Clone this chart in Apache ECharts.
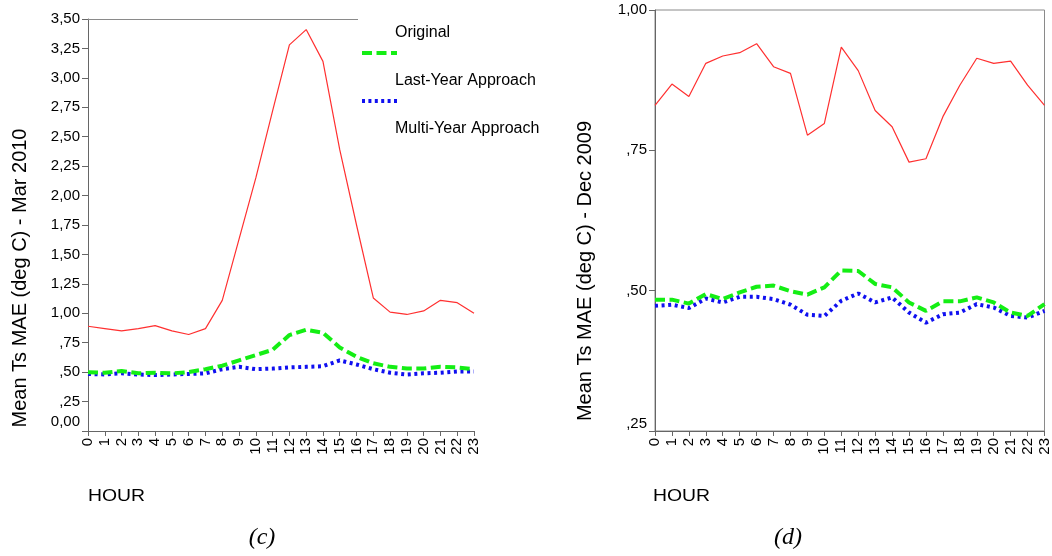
<!DOCTYPE html>
<html>
<head>
<meta charset="utf-8">
<script src="https://cdn.jsdelivr.net/npm/echarts@6/dist/echarts.min.js"></script>
<style>
  html, body { margin: 0; padding: 0; background: #fff; }
  #chart { width: 1052px; height: 556px; }
</style>
</head>
<body>
<div id="chart"></div>
<script>
// Hours of the day (category axis)
const hours = ['0','1','2','3','4','5','6','7','8','9','10','11','12','13','14','15','16','17','18','19','20','21','22','23'];

// Panel (c): mean Ts MAE, March 2010
const marOriginal   = [0.89, 0.87, 0.85, 0.87, 0.895, 0.85, 0.82, 0.87, 1.11, 1.63, 2.15, 2.72, 3.28, 3.41, 3.14, 2.39, 1.75, 1.13, 1.01, 0.99, 1.02, 1.11, 1.09, 1.00];
const marLastYear   = [0.50, 0.495, 0.51, 0.49, 0.495, 0.49, 0.50, 0.525, 0.555, 0.60, 0.645, 0.69, 0.815, 0.86, 0.835, 0.71, 0.63, 0.575, 0.545, 0.53, 0.53, 0.545, 0.54, 0.525];
const marMultiYear  = [0.485, 0.48, 0.49, 0.48, 0.475, 0.48, 0.485, 0.49, 0.525, 0.545, 0.525, 0.53, 0.54, 0.545, 0.55, 0.60, 0.565, 0.525, 0.495, 0.48, 0.49, 0.495, 0.505, 0.505];

// Panel (d): mean Ts MAE, December 2009
const decOriginal   = [0.830, 0.868, 0.846, 0.905, 0.918, 0.924, 0.940, 0.899, 0.887, 0.777, 0.798, 0.934, 0.892, 0.821, 0.792, 0.729, 0.735, 0.810, 0.866, 0.914, 0.905, 0.909, 0.866, 0.830];
const decLastYear   = [0.484, 0.484, 0.477, 0.494, 0.485, 0.497, 0.507, 0.509, 0.499, 0.493, 0.506, 0.536, 0.535, 0.512, 0.506, 0.479, 0.464, 0.481, 0.481, 0.488, 0.479, 0.461, 0.455, 0.476];
const decMultiYear  = [0.473, 0.475, 0.469, 0.486, 0.479, 0.489, 0.489, 0.485, 0.475, 0.457, 0.455, 0.482, 0.495, 0.479, 0.488, 0.461, 0.443, 0.458, 0.461, 0.476, 0.470, 0.455, 0.452, 0.464];

const seriesNames = ['Original', 'Last-Year Approach', 'Multi-Year Approach'];
const yTitles = ['Mean Ts MAE (deg C) - Mar 2010', 'Mean Ts MAE (deg C) - Dec 2009'];
const xTitle = 'HOUR';
const panelTags = ['(c)', '(d)'];

const FONT = '"Liberation Sans", Arial, sans-serif';
const AXIS_COLOR = '#666';
const BORDER_COLOR = '#8a8a8a';

// EViews-style tick labels: comma decimal, no leading zero below 1 (except zero itself);
// the bottom label of each axis sits a little above its tick
function tickLabelFor(axisMin, shiftStyle) {
  return function (v) {
    const r = Math.round(v * 100) / 100;
    let s = r === 0 ? '0,00' : r.toFixed(2).replace('.', ',');
    if (r !== 0 && r < 1) s = s.replace(/^0/, '');
    if (Math.abs(r - axisMin) < 1e-9) return '{' + shiftStyle + '|' + s + '}';
    return s;
  };
}

const lineStyles = [
  { color: '#ff3030', width: 1.2, type: 'solid' },
  { color: '#14ee14', width: 4, type: [10, 4.5] },
  { color: '#1010f0', width: 4, type: [3, 3.6] }
];

// Legend keys drawn as dash / dot patterns (35 x 4 box)
const legendIcons = [
  'path://M0,0h35v4h-35z',
  'path://M0,0h10v4h-10zM14.5,0h10v4h-10zM29,0h6v4h-6z',
  'path://M0,0h3v4h-3zM6.4,0h3v4h-3zM12.8,0h3v4h-3zM19.2,0h3v4h-3zM25.6,0h3v4h-3zM32,0h3v4h-3z'
];

function makeSeries(gridIdx, values) {
  return values.map((arr, i) => ({
    name: seriesNames[i],
    type: 'line',
    xAxisIndex: gridIdx === 0 ? 0 : 2,
    yAxisIndex: gridIdx,
    data: arr,
    symbol: 'none',
    showSymbol: false,
    lineStyle: lineStyles[i],
    itemStyle: { color: lineStyles[i].color },
    z: 3 - i,
    emphasis: { disabled: true }
  }));
}

function xCat(gridIndex) {
  return {
    type: 'category',
    gridIndex: gridIndex,
    data: hours,
    boundaryGap: false,
    axisLine: { lineStyle: { color: AXIS_COLOR, width: 1 } },
    axisTick: { show: true, length: 5, lineStyle: { color: AXIS_COLOR } },
    axisLabel: {
      rotate: 90, interval: 0, margin: 7,
      fontFamily: FONT, fontSize: 15, color: '#000'
    },
    splitLine: { show: false }
  };
}

function yVal(gridIndex, min, max, lift) {
  return {
    type: 'value',
    gridIndex: gridIndex,
    min: min, max: max, interval: 0.25,
    axisLine: { show: true, lineStyle: { color: AXIS_COLOR, width: 1 } },
    axisTick: { show: true, length: 6, lineStyle: { color: AXIS_COLOR } },
    axisLabel: {
      margin: 8, fontFamily: FONT, fontSize: 15, color: '#000',
      formatter: tickLabelFor(min, 'low'),
      rich: { low: { fontFamily: FONT, fontSize: 15, color: '#000', padding: [0, 0, lift, 0] } }
    },
    splitLine: { show: false }
  };
}

const chart = echarts.init(document.getElementById('chart'), null, { renderer: 'canvas' });

const option = {
  animation: false,
  backgroundColor: '#fff',
  grid: [
    { left: 88, top: 19, width: 386, height: 412, containLabel: false },
    { left: 655, top: 10, width: 393, height: 421, containLabel: false,
      show: true, borderColor: BORDER_COLOR, borderWidth: 1, backgroundColor: 'transparent' }
  ],
  xAxis: [
    xCat(0),
    // top frame line of panel (c)
    { type: 'category', gridIndex: 0, position: 'top', data: hours, boundaryGap: false,
      axisLine: { lineStyle: { color: BORDER_COLOR } }, axisTick: { show: false },
      axisLabel: { show: false }, splitLine: { show: false } },
    xCat(1)
  ],
  yAxis: [
    yVal(0, 0, 3.5, 18),
    yVal(1, 0.25, 1.0, 14)
  ],
  legend: {
    orient: 'vertical',
    left: 358,
    top: -12,
    padding: [0, 14, 8, 4],
    itemGap: -5,
    itemWidth: 35,
    itemHeight: 4,
    backgroundColor: '#fff',
    selectedMode: false,
    // key on the first line, entry name one row below it
    formatter: name => '{s| }\n{t|' + name + '}',
    textStyle: {
      fontFamily: FONT, fontSize: 16, color: '#000',
      rich: {
        s: { fontFamily: FONT, fontSize: 16, lineHeight: 56 },
        t: { fontFamily: FONT, fontSize: 16, lineHeight: 18, color: '#000', padding: [0, 0, 0, -7] }
      }
    },
    data: [
      { name: 'Original', icon: legendIcons[0], itemStyle: { color: 'rgba(255,255,255,0)', opacity: 0 } },
      { name: 'Last-Year Approach', icon: legendIcons[1] },
      { name: 'Multi-Year Approach', icon: legendIcons[2] }
    ]
  },
  graphic: [
    { type: 'text', x: 20, y: 278, rotation: Math.PI / 2,
      style: { text: yTitles[0], font: '20px ' + FONT, fill: '#000',
               align: 'center', verticalAlign: 'middle', textAlign: 'center', textVerticalAlign: 'middle' } },
    { type: 'text', x: 585, y: 271, rotation: Math.PI / 2,
      style: { text: yTitles[1], font: '20px ' + FONT, fill: '#000',
               align: 'center', verticalAlign: 'middle', textAlign: 'center', textVerticalAlign: 'middle' } },
    { type: 'text', x: 88, y: 496, scaleX: 1.14,
      style: { text: xTitle, font: '17px ' + FONT, fill: '#000',
               align: 'left', verticalAlign: 'middle', textAlign: 'left', textVerticalAlign: 'middle' } },
    { type: 'text', x: 653, y: 496, scaleX: 1.14,
      style: { text: xTitle, font: '17px ' + FONT, fill: '#000',
               align: 'left', verticalAlign: 'middle', textAlign: 'left', textVerticalAlign: 'middle' } },
    { type: 'text', x: 262, y: 538,
      style: { text: panelTags[0], font: 'italic 24px "Liberation Serif", "Times New Roman", serif', fill: '#000',
               align: 'center', verticalAlign: 'middle', textAlign: 'center', textVerticalAlign: 'middle' } },
    { type: 'text', x: 788, y: 538,
      style: { text: panelTags[1], font: 'italic 24px "Liberation Serif", "Times New Roman", serif', fill: '#000',
               align: 'center', verticalAlign: 'middle', textAlign: 'center', textVerticalAlign: 'middle' } }
  ],
  series: [
    ...makeSeries(0, [marOriginal, marLastYear, marMultiYear]),
    ...makeSeries(1, [decOriginal, decLastYear, decMultiYear])
  ]
};

chart.setOption(option);
</script>
</body>
</html>
